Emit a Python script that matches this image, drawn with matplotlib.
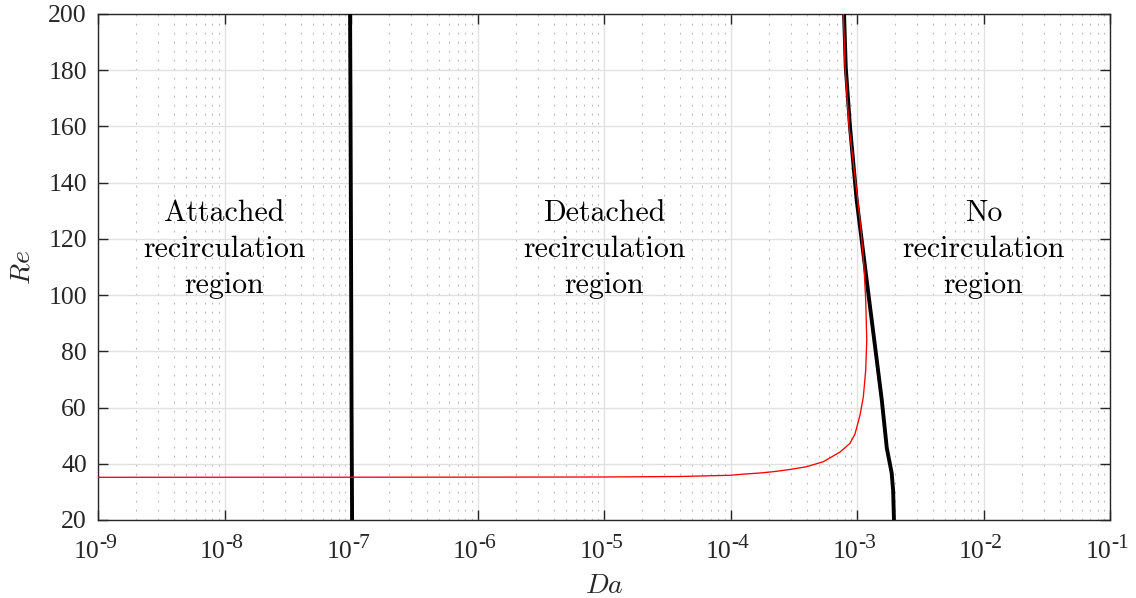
import matplotlib
matplotlib.use("Agg")
import matplotlib.pyplot as plt
from matplotlib.ticker import LogLocator, NullLocator, FixedLocator
import numpy as np

plt.rcParams['font.family'] = ['Liberation Serif', 'DejaVu Serif']

# ---- data ----
# attached / detached boundary (black)
re_attached = [20, 60, 120, 170, 200]
da_attached = [1.02e-7, 1.01e-7, 1.00e-7, 0.99e-7, 0.983e-7]

# detached / no recirculation boundary (black)
re_norecirc = [20, 30.5, 36.7, 45.6, 62.7, 80.5, 98, 134, 160, 181, 200]
da_norecirc = [1.96e-3, 1.93e-3, 1.88e-3, 1.72e-3, 1.57e-3, 1.40e-3, 1.25e-3,
               9.93e-4, 8.8e-4, 8.15e-4, 7.9e-4]

# red curve
re_red = [35.19, 35.22, 35.25, 35.30, 35.48, 35.90, 36.30, 36.72, 37.18, 37.96,
          38.96, 40.74, 44.19, 47.29, 50.59, 57.35, 63.76, 73.36, 84.03, 98.26,
          110.1, 122.1, 133.8, 159.9, 181.3, 200]
da_red = [1e-9, 1e-7, 1e-6, 1.02e-5, 3.99e-5, 9.9e-5, 1.25e-4, 1.71e-4, 2.17e-4,
          2.95e-4, 4.0e-4, 5.42e-4, 7.35e-4, 8.81e-4, 9.64e-4, 1.057e-3, 1.122e-3,
          1.172e-3, 1.194e-3, 1.172e-3, 1.135e-3, 1.081e-3, 1.014e-3, 8.65e-4,
          8.04e-4, 7.8e-4]

x_ticks = [1e-9, 1e-8, 1e-7, 1e-6, 1e-5, 1e-4, 1e-3, 1e-2, 1e-1]
x_tick_base = '10'
x_tick_exponents = ['-9', '-8', '-7', '-6', '-5', '-4', '-3', '-2', '-1']
y_ticks = [20, 40, 60, 80, 100, 120, 140, 160, 180, 200]

region_x = [1e-8, 1e-5, 1e-2]
region_lines = [["Attached", "recirculation", "region"],
                ["Detached", "recirculation", "region"],
                ["No", "recirculation", "region"]]
line_re = [126.5, 113.7, 100.9]

# ---- figure ----
fig = plt.figure(figsize=(11.36, 5.98), dpi=100)
ax = fig.add_axes([98/1136, 1-520/598, 1012/1136, 506/598])

ax.set_xscale('log')
ax.set_xlim(1e-9, 1e-1)
ax.set_ylim(20, 200)

ax.plot(da_attached, re_attached, color='black', lw=2.8, zorder=3)
ax.plot(da_norecirc, re_norecirc, color='black', lw=2.8, zorder=3)
ax.plot(da_red, re_red, color='#ff0000', lw=0.95, zorder=4)

ax.xaxis.set_major_locator(FixedLocator(x_ticks))
ax.set_xticklabels([''] * len(x_ticks))
ax.xaxis.set_minor_locator(LogLocator(base=10, subs=np.arange(2, 10), numticks=100))
ax.yaxis.set_major_locator(FixedLocator(y_ticks))
ax.yaxis.set_minor_locator(NullLocator())

ax.grid(which='major', color='#e1e1e1', lw=1.0, ls='-', zorder=0)
ax.xaxis.grid(which='minor', color='#b8b8b8', lw=0.8, ls=(0, (1.6, 6.5)), zorder=0)
ax.set_axisbelow(True)

ax.tick_params(which='major', direction='in', length=7, width=1.0,
               top=True, right=True, colors='#262626', labelsize=18.5)
ax.tick_params(axis='y', which='major', pad=8)
ax.tick_params(which='minor', length=0)
for s in ax.spines.values():
    s.set_color('#262626')
    s.set_linewidth(1.0)

# x tick labels as base + raised exponent (MATLAB tex style)
for xt, ex in zip(x_ticks, x_tick_exponents):
    ax.annotate(x_tick_base, xy=(xt, 0), xycoords=('data', 'axes fraction'),
                xytext=(0.7, -27.4), textcoords='offset points',
                ha='right', va='baseline', fontsize=18.5, color='#262626',
                annotation_clip=False)
    ax.annotate(ex, xy=(xt, 0), xycoords=('data', 'axes fraction'),
                xytext=(0.7, -20.2), textcoords='offset points',
                ha='left', va='baseline', fontsize=15.5, color='#262626',
                annotation_clip=False)

ax.set_xlabel(r'$Da$', fontsize=20, math_fontfamily='cm', color='#262626')
ax.set_ylabel(r'$Re$', fontsize=20, math_fontfamily='cm', color='#262626')
ax.xaxis.set_label_coords(0.5, -0.107)
ax.yaxis.set_label_coords(-0.062, 0.5)

for xr, lines in zip(region_x, region_lines):
    for txt, yr in zip(lines, line_re):
        ax.text(xr, yr, txt, family='cmr10', fontsize=21.5, ha='center',
                va='baseline', color='black', zorder=5)

fig.savefig('out.png', dpi=100)
